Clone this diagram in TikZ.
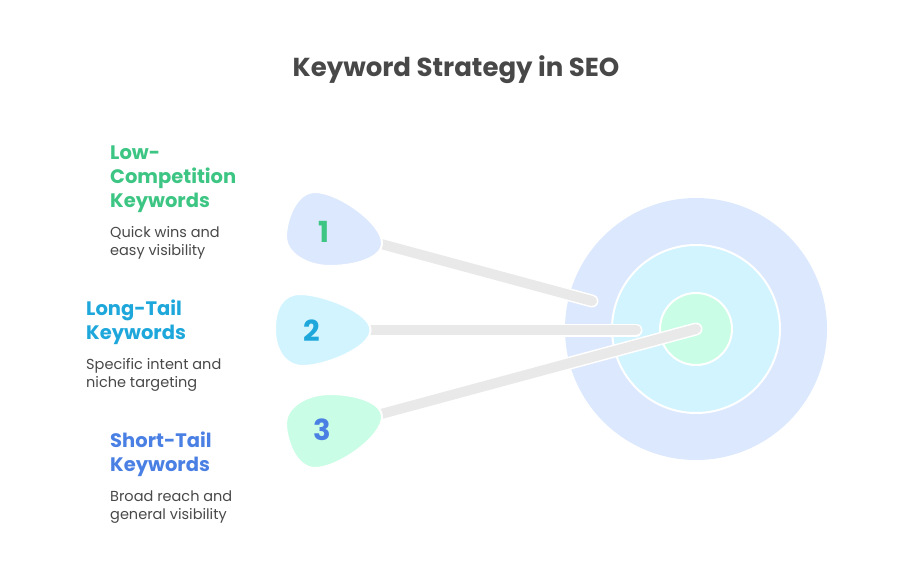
\documentclass[tikz,border=0pt]{standalone}
\usepackage{fontspec}
\setmainfont{Poppins}
\definecolor{softblue}{HTML}{DCE8FE}
\definecolor{softcyan}{HTML}{D2F4FF}
\definecolor{softmint}{HTML}{C9FDE5}
\definecolor{inkgreen}{HTML}{3CC583}
\definecolor{inkcyan}{HTML}{1EA7DB}
\definecolor{inkblue}{HTML}{4A80E4}
\definecolor{inkgray}{HTML}{484848}
\definecolor{linkgray}{HTML}{E9E9E9}
\tikzset{
	ring/.style={draw=white,line width=2pt},
	linkback/.style={draw=white,line width=13pt,line cap=round},
	linkfront/.style={draw=linkgray,line width=10pt,line cap=round},
	blob/.style={draw=white,line width=2pt},
	num/.style={font=\fontsize{29}{29}\selectfont\bfseries},
	head/.style={anchor=north west,align=left,inner sep=0pt,font=\fontsize{19.5}{24}\selectfont\bfseries},
	desc/.style={anchor=north west,align=left,inner sep=0pt,text=inkgray,font=\fontsize{14.5}{18}\selectfont},
}
\begin{document}
\begin{tikzpicture}[x=1pt,y=-1pt]
	\useasboundingbox (0,0) rectangle (912,565);
	\node[text=inkgray,font=\fontsize{26}{30}\selectfont\bfseries] (title) at (456,70) {Keyword Strategy in SEO};
	% target
	\coordinate (center) at (696,329);
	\fill[softblue] (center) circle(131);
	\filldraw[ring,fill=softcyan] (center) circle(84);
	\filldraw[ring,fill=softmint] (center) circle(36);
	% connectors
	\coordinate (tailone) at (370,241);
	\coordinate (tailtwo) at (360,330);
	\coordinate (tailthree) at (370,417);
	\coordinate (tipone) at (592,301);
	\coordinate (tiptwo) at (636,330);
	\coordinate (tipthree) at (696,329);
	\foreach \t/\h in {tailone/tipone,tailtwo/tiptwo,tailthree/tipthree}{
		\draw[linkback] (\t) -- (\h);
		\draw[linkfront] (\t) -- (\h);
	}
	% blobs
	\filldraw[blob,fill=softblue] (315,192) .. controls (338,192) and (382,223) .. (382,243)
	.. controls (382,258) and (355,266) .. (330,266) .. controls (305,266) and (286,252) .. (286,237)
	.. controls (286,220) and (296,192) .. (315,192);
	\filldraw[blob,fill=softcyan] (300,294) .. controls (322,294) and (370.5,312) .. (370.5,330)
	.. controls (370.5,348) and (325,366) .. (303,366) .. controls (285,366) and (275,350) .. (275,329)
	.. controls (275,308) and (283,294) .. (300,294);
	\filldraw[blob,fill=softmint] (330,394) .. controls (355,394) and (382,402) .. (382,417)
	.. controls (382,437) and (338,468) .. (315,468) .. controls (296,468) and (286,440) .. (286,423)
	.. controls (286,408) and (305,394) .. (330,394);
	\node[num,text=inkgreen] (numone) at (324,232) {1};
	\node[num,text=inkcyan] (numtwo) at (312,331) {2};
	\node[num,text=inkblue] (numthree) at (322,430) {3};
	% labels
	\node[head,text=inkgreen] (headone) at (110,146) {Low-\\Competition\\Keywords};
	\node[desc] (descone) at (110,226) {Quick wins and\\easy visibility};
	\node[head,text=inkcyan] (headtwo) at (86,300) {Long-Tail\\Keywords};
	\node[desc] (desctwo) at (86,358) {Specific intent and\\niche targeting};
	\node[head,text=inkblue] (headthree) at (110,432) {Short-Tail\\Keywords};
	\node[desc] (descthree) at (110,491) {Broad reach and\\general visibility};
\end{tikzpicture}
\end{document}
